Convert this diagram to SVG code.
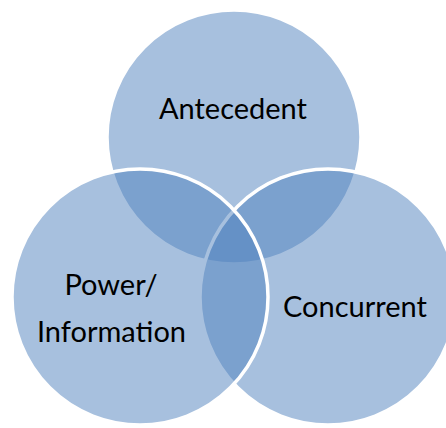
<svg xmlns="http://www.w3.org/2000/svg" width="446" height="428" viewBox="0 0 446 428">
  <style>
    .c { fill: #4F81BD; fill-opacity: 0.5; stroke: #FFFFFF; stroke-width: 3.5; }
    .t { font-family: "Lato", "Liberation Sans", sans-serif; font-size: 29px; fill: #000000; text-anchor: middle; }
  </style>
  <rect x="0" y="0" width="446" height="428" fill="#FFFFFF"/>
  <g id="antecedent">
    <circle class="c" cx="234" cy="137" r="127"/>
    <text class="t" x="233" y="119">Antecedent</text>
  </g>
  <g id="concurrent">
    <circle class="c" cx="328" cy="297" r="128"/>
    <text class="t" x="355" y="317">Concurrent</text>
  </g>
  <g id="power-information">
    <circle class="c" cx="140" cy="297" r="128"/>
    <text class="t" x="111" y="295">Power/</text>
    <text class="t" x="111.5" y="342">Information</text>
  </g>
</svg>
